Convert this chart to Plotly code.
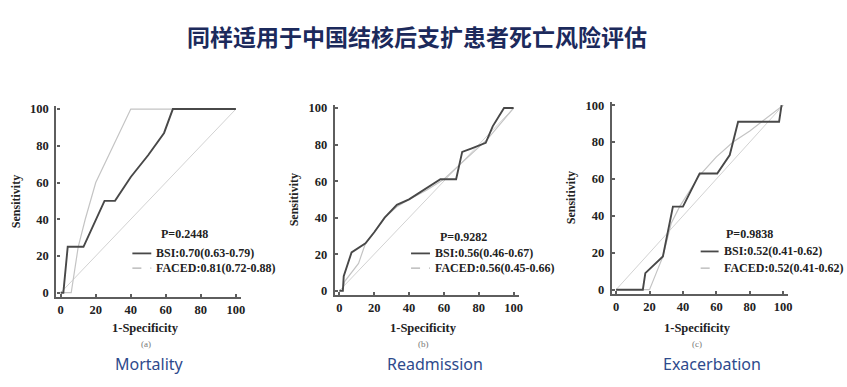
import plotly.graph_objects as go

# ---- data ----
title_text = "同样适用于中国结核后支扩患者死亡风险评估"
panel_names = ["Mortality", "Readmission", "Exacerbation"]
panel_tags = ["(a)", "(b)", "(c)"]
p_values = ["P=0.2448", "P=0.9282", "P=0.9838"]
bsi_labels = ["BSI:0.70(0.63-0.79)", "BSI:0.56(0.46-0.67)", "BSI:0.52(0.41-0.62)"]
faced_labels = ["FACED:0.81(0.72-0.88)", "FACED:0.56(0.45-0.66)", "FACED:0.52(0.41-0.62)"]
tick_vals = [0, 20, 40, 60, 80, 100]
ref_x = [0, 100]
ref_y = [0, 100]

mort_bsi_x = [0, 1.5, 4, 13, 25, 31, 40, 50, 59, 64, 100]
mort_bsi_y = [0, 0, 25, 25, 50, 50, 63, 75, 87, 100, 100]
mort_faced_x = [0, 6, 10, 14, 20, 30, 40, 100]
mort_faced_y = [0, 0, 25, 40, 60, 80, 100, 100]

read_bsi_x = [0, 2, 2.5, 7, 15, 20, 26, 33, 40, 45, 52, 58, 67, 70.5, 76, 84, 88, 94.5, 100]
read_bsi_y = [0, 0, 8, 21, 26, 32, 40, 47, 50, 53, 57, 61, 61, 76, 78, 81, 90, 100, 100]
read_faced_x = [0, 2, 3, 11, 15, 20, 26, 33, 40, 50, 60, 70, 80, 85, 100]
read_faced_y = [0, 0, 5, 15, 26, 32, 40, 46, 50, 55, 61, 70, 79, 83, 100]

exac_bsi_x = [0, 16, 17.5, 28, 34, 40, 50, 60.5, 68, 73, 97.5, 99]
exac_bsi_y = [0, 0, 9, 18, 45, 45, 63, 63, 73, 91, 91, 100]
exac_faced_x = [0, 20, 24, 28, 33, 38, 45, 50, 60, 70, 80, 100]
exac_faced_y = [0, 0, 9, 18, 36, 45, 55, 62, 72, 80, 86, 100]

bsi_x = [mort_bsi_x, read_bsi_x, exac_bsi_x]
bsi_y = [mort_bsi_y, read_bsi_y, exac_bsi_y]
faced_x = [mort_faced_x, read_faced_x, exac_faced_x]
faced_y = [mort_faced_y, read_faced_y, exac_faced_y]

# ---- layout geometry (pixels) ----
W, H = 847, 387
xdoms = [(56.6, 242.3), (336.6, 521.3), (614.8, 792.0)]
ydoms = [(104.2, 298.3), (103.2, 296.3), (100.2, 295.3)]
xr = [-2.5, 103]
yr = [-2.3, 101.5]

SERIF = "Liberation Serif, Times New Roman, serif"
DARK = "#484848"
LIGHT = "#c4c4c4"
REF = "#d2d2d2"
AXC = "#5e5e5e"

fig = go.Figure()
layout = dict(
    width=W, height=H, margin=dict(l=0, r=0, t=0, b=0),
    paper_bgcolor="white", plot_bgcolor="white", showlegend=False,
)
annotations = []
shapes = []


def ann(text, px, py, size, color="#222", family=SERIF, xanchor="center", angle=0):
    annotations.append(dict(text=text, x=px / W, y=1 - py / H, xref="paper", yref="paper",
                            showarrow=False, xanchor=xanchor, yanchor="middle",
                            textangle=angle, font=dict(family=family, size=size, color=color)))


for i in range(3):
    xa = "x" if i == 0 else f"x{i+1}"
    ya = "y" if i == 0 else f"y{i+1}"
    fig.add_trace(go.Scatter(x=ref_x, y=ref_y, mode="lines", xaxis=xa, yaxis=ya,
                             line=dict(color=REF, width=1), hoverinfo="skip"))
    fig.add_trace(go.Scatter(x=faced_x[i], y=faced_y[i], mode="lines", xaxis=xa, yaxis=ya,
                             line=dict(color=LIGHT, width=1.2), name="FACED"))
    fig.add_trace(go.Scatter(x=bsi_x[i], y=bsi_y[i], mode="lines", xaxis=xa, yaxis=ya,
                             line=dict(color=DARK, width=1.9), name="BSI"))
    x0, x1 = xdoms[i]
    y0, y1 = ydoms[i]
    axcommon = dict(showgrid=False, zeroline=False, showline=True, linecolor=AXC,
                    linewidth=2.4, ticks="inside", ticklen=3, tickwidth=1.5, tickcolor=AXC,
                    tickvals=tick_vals, fixedrange=True,
                    tickfont=dict(family=SERIF, size=12.5, color="#222", weight="bold"))
    layout["xaxis" if i == 0 else f"xaxis{i+1}"] = dict(
        axcommon, domain=[x0 / W, x1 / W], range=xr, anchor=ya, ticklabelstandoff=0)
    layout["yaxis" if i == 0 else f"yaxis{i+1}"] = dict(
        axcommon, domain=[1 - y1 / H, 1 - y0 / H], range=yr, anchor=xa, ticklabelstandoff=3)

    cx = (x0 + x1) / 2 - 3
    cy = (y0 + y1) / 2
    ann("<b>1-Specificity</b>", cx, 330, 12.5)
    ann("<b>Sensitivity</b>", x0 - 41, cy, 12, angle=-90)
    ann(panel_tags[i], cx, 346, 9, color="#777")
    ann(panel_names[i], [150, 437, 715][i], 367, 16, color="#2e4a8c", family="Noto Sans")

# legend-like annotation blocks (pixels)
p_pos = [(160, 234), (440, 237), (727, 234)]
leg_line_x = [(133, 152), (413, 432), (704, 722)]
leg_y = [(254, 269), (254, 269), (252, 269)]
for i in range(3):
    px, py = p_pos[i]
    ann(f"<b>{p_values[i]}</b>", px, py, 12, xanchor="left")
    lx0, lx1 = leg_line_x[i]
    by, fy = leg_y[i]
    shapes.append(dict(type="line", xref="paper", yref="paper", x0=lx0 / W, x1=lx1 / W,
                       y0=1 - by / H, y1=1 - by / H, line=dict(color=DARK, width=1.8)))
    shapes.append(dict(type="line", xref="paper", yref="paper", x0=lx0 / W, x1=lx1 / W,
                       y0=1 - fy / H, y1=1 - fy / H, line=dict(color="#b0b0b0", width=1.2, dash="dash")))
    ann(f"<b>{bsi_labels[i]}</b>", lx1 + 3, by, 12, xanchor="left")
    ann(f"<b>{faced_labels[i]}</b>", lx1 + 3, fy, 12, xanchor="left")

ann(f"<b>{title_text}</b>", 419, 33, 23, color="#1c2a5c", family="Noto Sans CJK SC")

layout["annotations"] = annotations
layout["shapes"] = shapes
fig.update_layout(**layout)
fig.write_html("out.html")
